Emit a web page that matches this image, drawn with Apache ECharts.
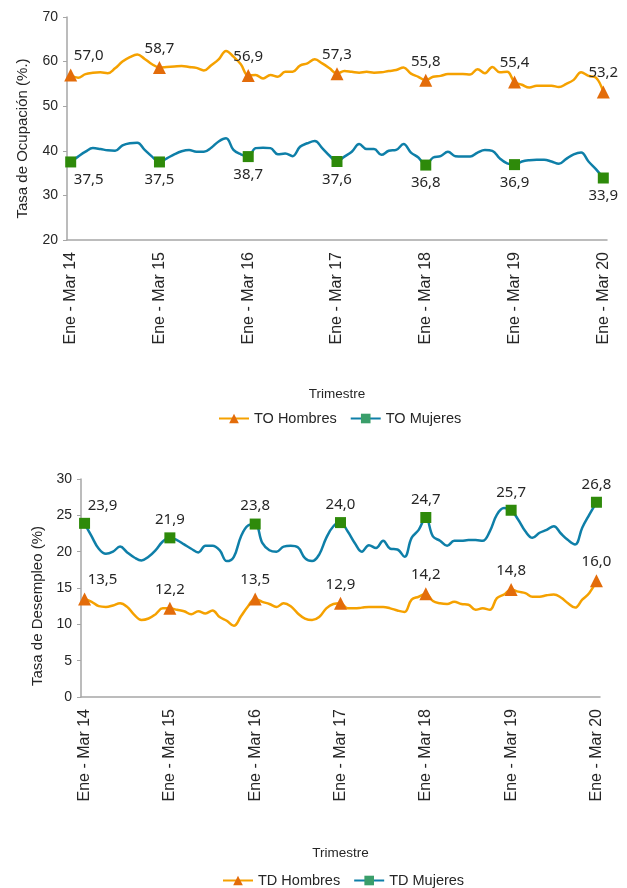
<!DOCTYPE html>
<html>
<head>
<meta charset="utf-8">
<script src="https://cdn.jsdelivr.net/npm/echarts@6/dist/echarts.min.js"></script>
<style>
html,body{margin:0;padding:0;background:#fff;}
#c{width:627px;height:888px;}
</style>
</head>
<body>
<div id="c"></div>
<script>
// ---- Data ----
const monthAbbr = ['Ene','Feb','Mar','Abr','May','Jun','Jul','Ago','Sep','Oct','Nov','Dic'];
const startYear = 14;
const nPeriods = 73;

const toHombres = [57.0,56.4,57.2,57.5,57.6,57.4,58.5,60.0,61.0,61.6,60.6,59.4,
  58.7,58.8,58.9,59.0,58.8,58.6,58.0,59.2,60.5,62.4,61.1,59.4,
  56.9,57.0,56.2,57.0,56.6,57.7,57.7,59.1,59.6,60.5,59.6,58.5,
  57.3,57.9,57.7,57.5,57.7,57.5,57.6,57.9,58.1,58.7,57.3,56.6,
  55.8,56.6,56.8,57.2,57.2,57.2,57.1,58.3,57.4,58.8,57.6,57.7,
  55.4,54.8,54.2,54.6,54.6,54.6,54.3,55.0,55.9,57.6,56.8,56.4,
  53.2];
const toMujeres = [37.5,38.7,39.8,40.6,40.4,40.1,40.0,41.2,41.7,41.8,40.2,38.7,
  37.5,38.3,39.2,39.9,40.2,39.8,39.8,40.7,42.1,42.8,40.2,39.2,
  38.7,40.6,40.7,40.6,39.2,39.4,38.8,40.9,41.7,42.2,40.6,38.9,
  37.6,38.7,39.8,41.5,40.4,40.4,39.1,40.0,40.2,41.5,39.6,38.5,
  36.8,38.5,38.8,39.8,38.8,38.7,38.7,39.6,40.2,40.0,38.3,37.2,
  36.9,37.6,37.9,38.0,38.0,37.6,37.1,38.2,39.2,39.6,37.6,35.9,
  33.9];
const tdHombres = [13.5,13.1,12.5,12.4,12.6,12.9,12.4,11.3,10.6,10.8,11.4,12.2,
  12.2,12.0,11.8,11.4,11.8,11.5,11.9,11.0,10.5,9.8,11.1,12.5,
  13.5,13.1,12.8,12.4,12.9,12.5,11.5,10.8,10.6,11.0,12.2,12.8,
  12.9,12.2,12.2,12.3,12.4,12.4,12.4,12.2,11.9,11.7,13.4,13.8,
  14.2,13.2,12.9,12.8,13.1,12.8,12.7,12.0,12.2,12.0,13.6,14.1,
  14.8,14.5,14.3,13.8,13.8,14.0,14.1,13.7,12.9,12.3,13.4,14.3,
  16.0];
const tdMujeres = [23.9,22.1,20.4,19.7,20.0,20.7,19.9,19.2,18.8,19.3,20.2,21.4,
  21.9,21.6,21.0,20.4,19.9,20.8,20.8,20.2,18.7,19.3,22.1,23.6,
  23.8,21.2,20.2,20.0,20.7,20.8,20.6,19.1,18.7,19.6,21.9,23.5,
  24.0,22.8,21.2,20.0,20.9,20.5,21.5,20.4,20.3,19.3,21.9,23.0,
  24.7,22.1,21.5,20.8,21.5,21.5,21.6,21.6,21.5,22.8,25.1,26.0,
  25.7,24.4,22.8,21.9,22.6,23.0,23.5,22.5,21.6,21.0,23.3,25.1,
  26.8];

// Rolling-quarter category names
const categories = [];
for (let i = 0; i < nPeriods; i++) {
  const m0 = i % 12, y0 = startYear + Math.floor(i / 12);
  const m2i = i + 2, m2 = m2i % 12, y2 = startYear + Math.floor(m2i / 12);
  if (y0 === y2) categories.push(monthAbbr[m0] + ' - ' + monthAbbr[m2] + ' ' + y0);
  else categories.push(monthAbbr[m0] + ' ' + y0 + ' - ' + monthAbbr[m2] + ' ' + y2);
}

// ---- Styles ----
const ORANGE_LINE = '#F5A100', ORANGE_MARK = '#E36C0A';
const BLUE_LINE = '#0E7FA8', GREEN_MARK = '#2E8A0A', LEGEND_SQ = '#3A9E6A';
const axisGray = '#A6A6A6';
const txt = '#262626';
const fmt = v => v.toFixed(1).replace('.', ',');

function buildData(arr, sym, labelPos) {
  return arr.map((v, i) => {
    if (i % 12 === 0) {
      const item = { value: v, symbol: sym, symbolSize: sym === 'rect' ? 11 : 13,
        label: { show: true, position: labelPos, distance: 5 } };
      if (i === 0) item.label.offset = [18, 0];
      return item;
    }
    return { value: v, symbol: 'none' };
  });
}

function lineSeries(name, arr, sym, lineColor, markColor, labelPos, idx) {
  return {
    name, type: 'line', xAxisIndex: idx, yAxisIndex: idx,
    data: buildData(arr, sym, labelPos),
    symbol: sym, showSymbol: true, smooth: 0.4,
    lineStyle: { color: lineColor, width: 2.5 },
    itemStyle: { color: markColor },
    label: { show: false, formatter: p => fmt(p.value), fontFamily: 'Noto Sans', fontSize: 15, color: txt },
    emphasis: { disabled: true },
    z: sym === 'rect' ? 3 : 4
  };
}

const xAxisBase = (idx) => ({
  type: 'category', gridIndex: idx, data: categories, boundaryGap: true,
  axisLine: { lineStyle: { color: axisGray, width: 1.5 } },
  axisTick: { show: false },
  axisLabel: { interval: 11, rotate: 90, fontFamily: 'Liberation Sans', fontSize: 16, color: txt, margin: 12 },
  name: 'Trimestre', nameLocation: 'middle',
  nameTextStyle: { fontFamily: 'Liberation Sans', fontSize: 13.5, color: txt }
});

const yAxisBase = (idx, min, max, interval, name, gap, shift) => ({
  type: 'value', gridIndex: idx, min, max, interval,
  axisLine: { show: true, lineStyle: { color: axisGray, width: 1.5 } },
  axisTick: { show: true, length: 4, lineStyle: { color: axisGray } },
  splitLine: { show: false },
  axisLabel: { fontFamily: 'Liberation Sans', fontSize: 14, color: txt, margin: 9 },
  name, nameLocation: 'middle', nameGap: gap, nameRotate: 90,
  nameTextStyle: { fontFamily: 'Liberation Sans', fontSize: 15, color: txt, padding: [0, shift, 0, 0] }
});

const chart = echarts.init(document.getElementById('c'), null, { renderer: 'canvas' });
const xa0 = xAxisBase(0); xa0.nameGap = 147;
const xa1 = xAxisBase(1); xa1.nameGap = 149;
const legendText = { fontFamily: 'Liberation Sans', fontSize: 14.5, color: txt };
chart.setOption({
  animation: false,
  backgroundColor: '#fff',
  grid: [
    { left: 67, right: 20, top: 17, height: 223 },
    { left: 81, right: 27, top: 479, height: 218 }
  ],
  xAxis: [xa0, xa1],
  yAxis: [
    yAxisBase(0, 20, 70, 10, 'Tasa de Ocupación (%.)', 37, 20),
    yAxisBase(1, 0, 30, 5, 'Tasa de Desempleo (%)', 33, 36)
  ],
  legend: [
    { top: 406, left: 213, itemWidth: 30, itemHeight: 12, itemGap: 13, textStyle: legendText,
      data: [{ name: 'TO Hombres' }, { name: 'TO Mujeres', itemStyle: { color: LEGEND_SQ } }] },
    { top: 868, left: 217, itemWidth: 30, itemHeight: 12, itemGap: 13, textStyle: legendText,
      data: [{ name: 'TD Hombres' }, { name: 'TD Mujeres', itemStyle: { color: LEGEND_SQ } }] }
  ],
  series: [
    lineSeries('TO Hombres', toHombres, 'triangle', ORANGE_LINE, ORANGE_MARK, 'top', 0),
    lineSeries('TO Mujeres', toMujeres, 'rect', BLUE_LINE, GREEN_MARK, 'bottom', 0),
    lineSeries('TD Hombres', tdHombres, 'triangle', ORANGE_LINE, ORANGE_MARK, 'top', 1),
    lineSeries('TD Mujeres', tdMujeres, 'rect', BLUE_LINE, GREEN_MARK, 'top', 1)
  ]
});
</script>
</body>
</html>
